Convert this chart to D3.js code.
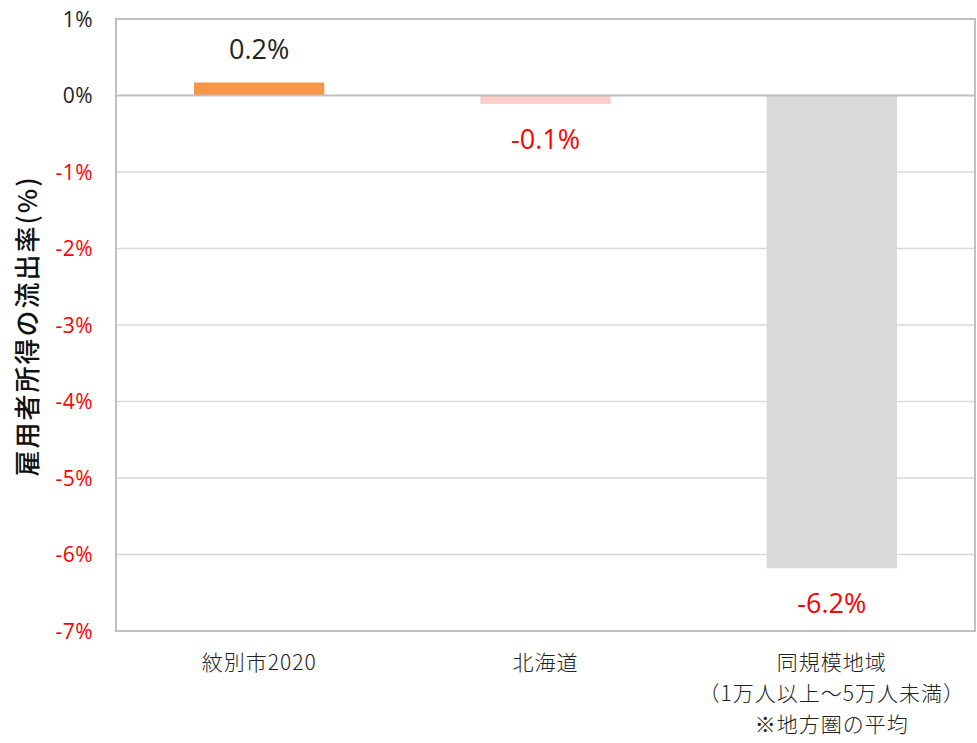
<!DOCTYPE html>
<html><head><meta charset="utf-8">
<script src="https://cdn.jsdelivr.net/npm/d3@7"></script>
<style>body{margin:0;background:#fff;} svg{display:block;}</style>
</head><body>
<svg id="c" width="977" height="743"></svg>
<script>
const categories = ["紋別市2020", "北海道", "同規模地域\n（1万人以上～5万人未満）\n※地方圏の平均"];
const values = [0.17, -0.11, -6.18];
const valueLabels = ["0.2%", "-0.1%", "-6.2%"];
const barColors = ["#f79646", "#ffcccc", "#d9d9d9"];
const yTicks = [1, 0, -1, -2, -3, -4, -5, -6, -7];
const yTitle = "雇用者所得の流出率(%)";

const svg = d3.select("#c");
const m = {left:116, right:975, top:19, bottom:631};
const x = d3.scaleBand().domain(categories).range([m.left, m.right]).paddingInner(0.545).paddingOuter(0.2725);
const y = d3.scaleLinear().domain([-7, 1]).range([m.bottom, m.top]);

// gridlines
svg.append("g").selectAll("line").data(yTicks.filter(t => t !== 0 && t !== 1 && t !== -7)).join("line")
  .attr("x1", m.left).attr("x2", m.right).attr("y1", d => y(d)).attr("y2", d => y(d))
  .attr("stroke", "#d9d9d9").attr("stroke-width", 1.5);

// bars
svg.append("g").selectAll("rect").data(values).join("rect")
  .attr("x", (d,i) => x(categories[i]))
  .attr("width", x.bandwidth())
  .attr("y", d => y(Math.max(0, d)))
  .attr("height", d => Math.abs(y(d) - y(0)))
  .attr("fill", (d,i) => barColors[i]);

// zero line
svg.append("line").attr("x1", m.left).attr("x2", m.right).attr("y1", y(0)).attr("y2", y(0))
  .attr("stroke", "#c0c0c0").attr("stroke-width", 2);

// border
svg.append("rect").attr("x", m.left).attr("y", y(1)).attr("width", m.right - m.left).attr("height", y(-7) - y(1))
  .attr("fill", "none").attr("stroke", "#c0c0c0").attr("stroke-width", 2);

// y axis tick labels
const yAxis = d3.axisLeft(y).tickValues(yTicks).tickFormat(d => d + "%").tickSize(0).tickPadding(23);
const ga = svg.append("g").attr("transform", `translate(${m.left},0)`).call(yAxis);
ga.select(".domain").remove();
ga.attr("font-size", null).attr("font-family", null);
ga.selectAll("text").style("font-family", "'Open Sans', 'Liberation Sans', sans-serif")
  .style("font-size", "21px").style("letter-spacing", "0.5px").attr("fill", d => d < 0 ? "#ff0000" : "#222")
  .attr("dy", "0.35em");

// data labels
svg.append("g").selectAll("text").data(values).join("text")
  .attr("x", (d,i) => x(categories[i]) + x.bandwidth()/2)
  .attr("y", d => d >= 0 ? y(d) - 23 : y(d) + 45)
  .attr("text-anchor", "middle")
  .style("font-family", "'Open Sans', 'Liberation Sans', sans-serif")
  .style("font-size", "27px")
  .attr("fill", d => d < 0 ? "#ff0000" : "#222")
  .text((d,i) => valueLabels[i]);

// category labels
const cg = svg.append("g");
categories.forEach((c, i) => {
  const cx = x(c) + x.bandwidth()/2;
  const t = cg.append("text").attr("x", cx).attr("y", 670)
    .attr("text-anchor", "middle").style("font-family", "'Noto Sans CJK JP', sans-serif")
    .style("font-size", "21px").style("font-weight", 300).style("letter-spacing", "1px").attr("fill", "#222");
  c.split("\n").forEach((line, j) => {
    t.append("tspan").attr("x", cx).attr("dy", j === 0 ? 0 : 31).text(line);
  });
});

// y title
svg.append("text").attr("transform", `translate(37,${326}) rotate(-90)`)
  .attr("text-anchor", "middle").style("font-family", "'Noto Sans CJK JP', sans-serif")
  .style("font-size", "26px").style("font-weight", 500).style("letter-spacing", "2px").attr("fill", "#111").text(yTitle);
</script>
</body></html>
